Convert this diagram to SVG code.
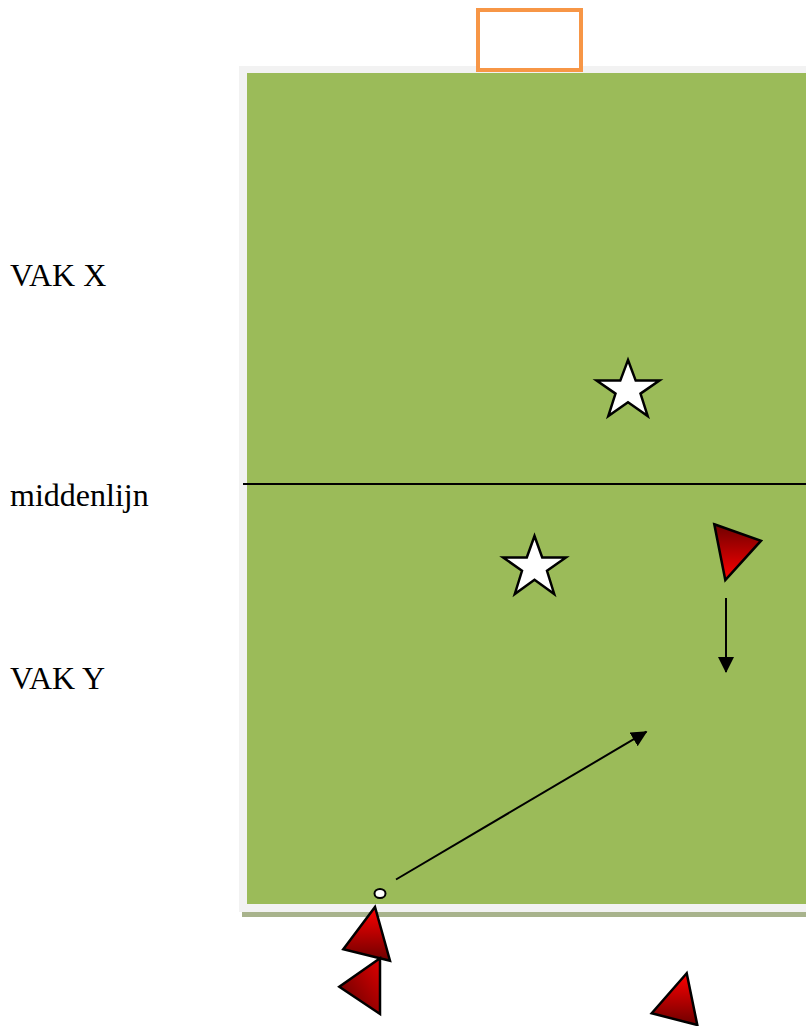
<svg xmlns="http://www.w3.org/2000/svg" width="806" height="1026" viewBox="0 0 806 1026">
<style>
.lbl{font-family:"Liberation Serif","Times New Roman",serif;font-size:32px;fill:#000}
.star{fill:#fff;stroke:#000;stroke-width:2.5;stroke-linejoin:miter}
.tri{stroke:#000;stroke-width:2.5;stroke-linejoin:miter}
.line{stroke:#000;stroke-width:2;fill:none}
</style>
<defs>
<linearGradient id="gDown" x1="0" y1="0" x2="0" y2="1"><stop offset="0" stop-color="#ff0000"/><stop offset="1" stop-color="#6e0000"/></linearGradient>
<linearGradient id="gUp" x1="0" y1="0" x2="0" y2="1"><stop offset="0" stop-color="#6e0000"/><stop offset="1" stop-color="#ff0000"/></linearGradient>
<linearGradient id="gB" x1="1" y1="0" x2="0" y2="1"><stop offset="0" stop-color="#e00000"/><stop offset="1" stop-color="#5a0000"/></linearGradient>
<marker id="ah" markerWidth="8" markerHeight="8" refX="7.5" refY="4" orient="auto" markerUnits="strokeWidth"><path d="M0,0 L8,4 L0,8 Z" fill="#000"/></marker>
</defs>
<rect width="806" height="1026" fill="#fff"/>
<g id="field">
<rect x="242" y="912" width="564" height="5" fill="#a8b38c"/>
<rect x="239" y="66" width="567" height="846" fill="#f2f2f2"/>
<rect x="247" y="73" width="559" height="831" fill="#9bbb59"/>
</g>
<g id="goal"><rect x="478" y="10" width="103" height="60" fill="#fff" stroke="#f79646" stroke-width="4"/></g>
<g id="midline"><line x1="243" y1="484" x2="806" y2="484" stroke="#000" stroke-width="2"/></g>
<g id="labels">
<text class="lbl" x="10" y="286">VAK X</text>
<text class="lbl" x="10" y="506">middenlijn</text>
<text class="lbl" x="10" y="689">VAK Y</text>
</g>
<g id="star1"><polygon class="star" points="628,360 635.7,380.6 659.4,380.6 640.5,393.6 647.7,416 628,402.2 608.3,416 615.5,393.6 596.6,380.6 620.3,380.6"/></g>
<g id="star2"><polygon class="star" points="534.5,536 542.2,557.4 565.9,557.4 547,570.8 554.2,594 534.5,579.8 514.8,594 522,570.8 503.1,557.4 526.8,557.4"/></g>
<g id="player1"><polygon class="tri" fill="url(#gUp)" points="714.3,524.3 761,540.7 725.3,580"/></g>
<g id="player2"><polygon class="tri" fill="url(#gDown)" points="375,907 343.3,949.3 390,960.7"/></g>
<g id="player3"><polygon class="tri" fill="url(#gB)" points="380,958.3 339.3,986.7 380,1014"/></g>
<g id="player4"><polygon class="tri" fill="url(#gDown)" points="686.7,973.3 651.7,1013.3 697.3,1025"/></g>
<g id="ball"><ellipse cx="380" cy="893.5" rx="5.5" ry="4.5" fill="#fff" stroke="#000" stroke-width="2"/></g>
<g id="connectors">
<line class="line" x1="396" y1="879.5" x2="646.5" y2="731.7" marker-end="url(#ah)"/>
<line class="line" x1="726" y1="598" x2="726" y2="672" marker-end="url(#ah)"/>
</g>
</svg>
